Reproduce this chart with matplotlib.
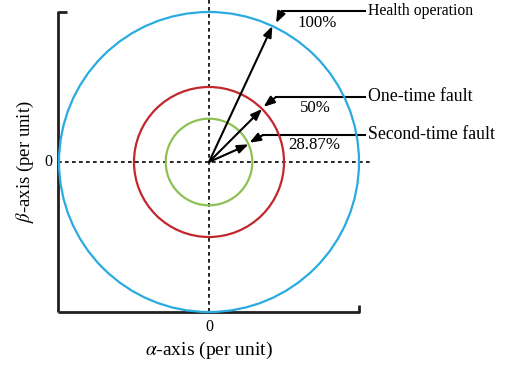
import numpy as np
import matplotlib
matplotlib.use("Agg")
import matplotlib.pyplot as plt
from matplotlib.patches import Circle

plt.rcParams["font.family"] = ["Liberation Serif", "DejaVu Serif"]
plt.rcParams["mathtext.fontset"] = "stix"

# Voltage vector magnitudes (per unit of healthy operation) and their angles
states = ["Health operation", "One-time fault", "Second-time fault"]
magnitudes = [1.0, 0.5, 0.2887]
percent_labels = ["100%", "50%", "28.87%"]
angles_deg = [65, 45, 24]
circle_colors = ["#29ABE2", "#C1272D", "#8DC153"]

# Figure: 150 px per unit, origin at pixel (209, 162)
W, H, DPI = 507, 368, 100
scale = 150.0
cx, cy = 209.0, 162.0

def px(x, y):
    """Pixel position (from top-left) to data coordinates."""
    return (x - cx) / scale, (cy - y) / scale

fig = plt.figure(figsize=(W / DPI, H / DPI), dpi=DPI)
ax = fig.add_axes([0, 0, 1, 1])
x0, y1 = px(0, 0)
x1, y0 = px(W, H)
ax.set_xlim(x0, x1)
ax.set_ylim(y0, y1)
ax.set_aspect("equal")
ax.axis("off")

# Bracket frame
fl, ft = px(57.5, 12)
fr, fb = px(359, 312)
ax.plot([px(67, 0)[0], fl, fl], [ft, ft, fb], color="#231F20", lw=2.0, solid_capstyle="butt")
ax.plot([fl, fr, fr], [fb, fb, px(0, 305)[1]], color="#231F20", lw=2.0, solid_capstyle="butt")

# Dotted alpha / beta axes through the origin
dash = (0, (2.2, 2.0))
ax.plot([0, 0], [y1, fb], color="black", lw=1.2, linestyle=dash)
ax.plot([fl, px(371, 0)[0]], [0, 0], color="black", lw=1.2, linestyle=dash)

# Magnitude circles
for r, c in zip(magnitudes, circle_colors):
    ax.add_patch(Circle((0, 0), r, fill=False, edgecolor=c, lw=1.6, zorder=3))

arrow_style = "-|>,head_length=0.65,head_width=0.25"

# Vectors from the origin
for r, a in zip(magnitudes, angles_deg):
    t = np.deg2rad(a)
    ax.annotate("", xy=(r * np.cos(t), r * np.sin(t)), xytext=(0, 0),
                arrowprops=dict(arrowstyle=arrow_style, color="black", lw=1.5,
                                shrinkA=0, shrinkB=0),
                zorder=5)

# Leader lines with labels
elbows_px = [(282, 11), (276, 97), (263, 135)]
leader_offsets = [-1.0, -0.5, -0.2]
label_end_x = px(365, 0)[0]
label_x = px(368, 0)[0]
state_sizes = [11.3, 12.8, 12.8]
for name, r, a, (ex, ey), off, fs in zip(states, magnitudes, angles_deg,
                                         elbows_px, leader_offsets, state_sizes):
    exd, eyd = px(ex, ey)
    t = np.deg2rad(a + off)
    tip = (r * 1.02 * np.cos(t), r * 1.02 * np.sin(t) + 0.01)
    ax.plot([exd, label_end_x], [eyd, eyd], color="black", lw=1.5)
    ax.annotate("", xy=tip, xytext=(exd, eyd),
                arrowprops=dict(arrowstyle=arrow_style, color="black", lw=1.5,
                                shrinkA=0, shrinkB=0),
                zorder=5)
    ax.text(label_x, eyd, name, fontsize=fs, ha="left", va="center")

# Percent labels
pct_pos_px = [(317, 23), (315, 108), (314, 145)]
for lab, (lx, ly) in zip(percent_labels, pct_pos_px):
    ax.text(*px(lx, ly), lab, fontsize=12.2, ha="center", va="center")

# Tick labels and axis titles
ax.text(*px(209, 327), "0", fontsize=11.5, ha="center", va="center")
ax.text(*px(48, 162), "0", fontsize=11.5, ha="center", va="center")
ax.text(*px(209, 350), r"$\alpha$-axis (per unit)", fontsize=14, ha="center", va="center")
ax.text(*px(25, 162), r"$\beta$-axis (per unit)", fontsize=13.5, ha="center", va="center",
        rotation=90)

fig.savefig("out.png", dpi=DPI)
